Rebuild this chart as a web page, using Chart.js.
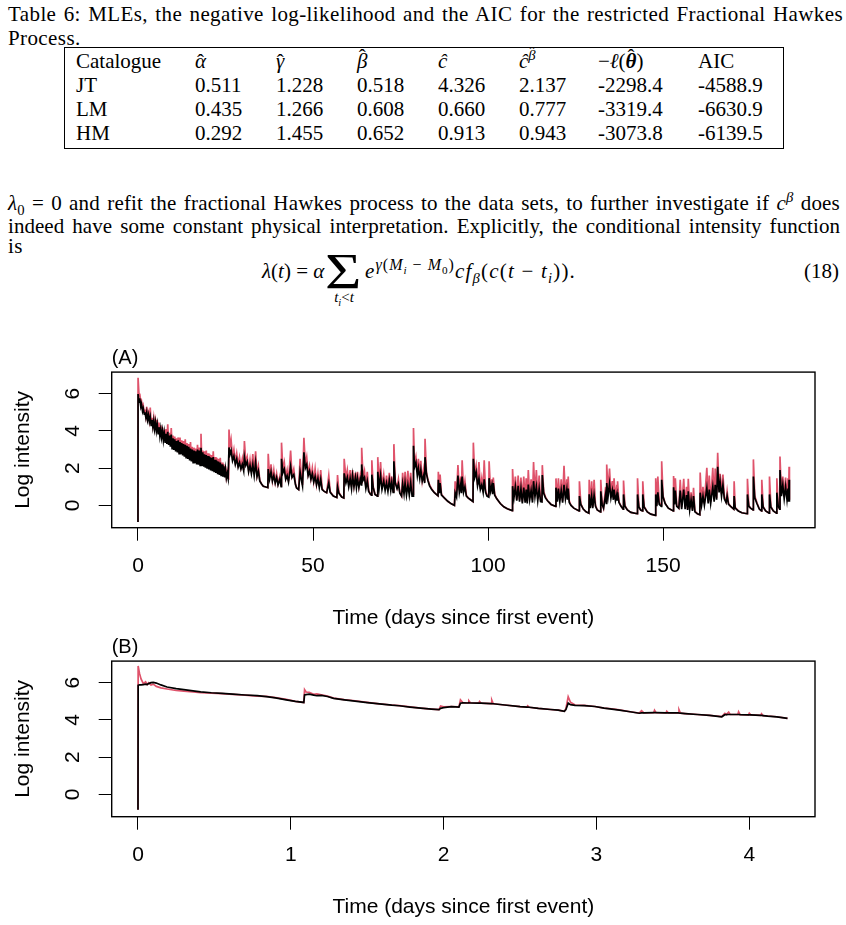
<!DOCTYPE html>
<html lang="en">
<head>
<meta charset="UTF-8">
<title>Fractional Hawkes - log intensity</title>
<script src="https://cdn.jsdelivr.net/npm/chart.js"></script>
<style>
  body {margin:0;width:846px;height:925px;overflow:hidden;background:#fff;color:#000;
        font-family:'Liberation Serif','Times New Roman',serif;position:relative}
  .ln {position:absolute;left:8px;width:834px;font-size:21px;line-height:24px;white-space:nowrap;letter-spacing:0.4px}
  .just {white-space:normal;text-align:justify;text-align-last:justify}
  .cell {position:absolute;font-size:21px;line-height:24px;white-space:nowrap}
  sub,sup {font-size:70%;line-height:0}
  .hat {position:relative;display:inline-block}
  .hat::after {content:"ˆ";position:absolute;left:50%;top:var(--t);transform:translateX(-50%);font-style:normal;font-weight:normal}
  #tab {position:absolute;left:64px;top:47px;width:718px;height:100px;border:1.3px solid #000}
  canvas {position:absolute;left:0}
</style>
</head>
<body>

<div class="ln" style="top:2px;width:835px"><div class="just">Table 6: MLEs, the negative log-likelihood and the AIC for the restricted Fractional Hawkes</div></div>
<div class="ln" style="top:26px">Process.</div>
<div id="tab"></div>
<div id="cells"></div>

<div class="ln" style="top:191px;width:832px;letter-spacing:0.2px"><div class="just"><i>λ</i><sub>0</sub> = 0 and refit the fractional Hawkes process to the data sets, to further investigate if <i>c</i><sup><i>β</i></sup> does</div></div>
<div class="ln" style="top:214px;width:832px;letter-spacing:0.05px"><div class="just">indeed have some constant physical interpretation. Explicitly, the conditional intensity function</div></div>
<div class="ln" style="top:234px">is</div>

<div class="cell" style="left:262px;top:259px"><i>λ</i>(<i>t</i>) = <i>α</i></div>
<div class="cell" style="left:325px;top:243px;font-size:50px;line-height:56px;transform:scaleX(1.25);transform-origin:left">Σ</div>
<div class="cell" style="left:324px;top:288px;width:40px;text-align:center;font-size:15px;line-height:18px"><i>t<sub>i</sub></i>&lt;<i>t</i></div>
<div class="cell" style="left:365px;top:259px;letter-spacing:1.2px"><i>e</i><sup style="font-size:16px;letter-spacing:1px"><i>γ</i>(<i>M<sub>i</sub></i> − <i>M</i><sub>0</sub>)</sup><i>cf</i><sub><i>β</i></sub>(<i>c</i>(<i>t</i> − <i>t<sub>i</sub></i>)).</div>
<div class="cell" style="left:804px;top:259px">(18)</div>

<canvas id="chartA" width="846" height="300" style="top:340px"></canvas>
<canvas id="chartB" width="846" height="300" style="top:629px"></canvas>

<script>
// ---- table 6 ----
const catalogues = ['JT', 'LM', 'HM'];
const alphaHat = [0.511, 0.435, 0.292];
const gammaHat = [1.228, 1.266, 1.455];
const betaHat = [0.518, 0.608, 0.652];
const cHat = [4.326, 0.660, 0.913];
const cBetaHat = [2.137, 0.777, 0.943];
const negLogLik = [-2298.4, -3319.4, -3073.8];
const aic = [-4588.9, -6630.9, -6139.5];

// ---- panel (A): time in days, log intensity ----
const timesA = [
  0, 0.02, 0.3, 0.5, 0.8, 1.0, 1.3, 1.5, 1.8, 2.0,
  2.25, 2.5, 2.75, 3.0, 3.25, 3.5, 3.75, 4.0,
  4.25, 4.5, 4.75, 5.0, 5.25, 5.5, 5.75, 6.0,
  6.25, 6.5, 6.75, 7.0, 7.25, 7.5, 7.75, 8.0,
  8.25, 8.5, 8.75, 9.0, 9.25, 9.5, 9.75, 10.0,
  10.25, 10.5, 10.75, 11.0, 11.25, 11.5, 11.75, 12.0,
  12.25, 12.5, 12.75, 13.0, 13.25, 13.5, 13.75, 14.0,
  14.25, 14.5, 14.75, 15.0, 15.25, 15.5, 15.75, 16.0,
  16.25, 16.5, 16.75, 17.0, 17.25, 17.5, 17.75, 18.0,
  18.25, 18.5, 18.75, 19.0, 19.25, 19.5, 19.75, 20.0,
  20.25, 20.5, 20.75, 21.0, 21.25, 21.5, 21.75, 22.0,
  22.25, 22.5, 22.75, 23.0, 23.25, 23.5, 23.75, 24.0,
  24.25, 24.5, 24.75, 25.0, 25.25, 25.5, 25.75,
  25.9, 26.0, 26.3, 26.6, 27.0, 27.4, 27.8,
  28.2, 28.6, 29.0, 29.4, 29.8, 30.2, 30.4, 30.8, 31.2, 31.6,
  32.0, 32.4, 32.8, 33.2, 33.6, 34.0, 34.4, 34.8, 35.3, 35.8,
  36.3, 37.1, 37.2, 37.6, 38.0, 38.4, 38.8, 39.2, 39.6, 40.0,
  40.5, 40.9, 41.0, 41.4, 41.8, 42.2, 42.6, 43.0, 43.6, 44.0,
  44.5, 45.0, 45.3, 45.9, 46.3, 46.7, 47.0, 47.4, 47.8, 48.2,
  48.6, 49.0, 49.4, 49.8, 50.2, 50.6, 51.0, 51.4, 51.8, 52.2,
  52.6, 53.2, 53.9, 54.5, 54.9, 55.8, 56.8, 57.0, 57.4, 58.2,
  58.8, 58.9, 59.4, 59.8, 60.2, 60.6, 61.0, 61.3, 61.7, 62.1,
  62.4, 62.7, 63.1, 63.5, 63.8, 63.9, 64.3, 64.7, 65.1, 65.5,
  65.9, 66.4, 66.7, 66.8, 67.2, 67.7, 68.4, 68.5, 68.9, 69.3,
  69.7, 70.2, 70.6, 71.0, 71.4, 71.8, 72.2, 72.5, 72.9, 73.1,
  73.5, 74.0, 74.4, 74.8, 75.3, 75.6, 76.0, 76.3, 76.7, 77.1,
  77.5, 77.9, 78.3, 78.6, 78.7, 79.0, 79.4, 79.8, 80.1, 80.5,
  80.8, 81.2, 81.6, 81.9, 82.0, 82.4, 82.8, 83.3, 83.9, 84.6,
  85.3, 85.7, 85.8, 86.1, 86.3, 86.7, 87.5, 88.5, 89.5, 90.4,
  90.6, 91.0, 91.4, 91.8, 92.2, 92.4, 92.6, 93.0, 93.4, 93.8,
  94.3, 95.0, 95.7, 95.8, 96.2, 96.6, 97.0, 97.4, 97.8, 98.2,
  98.6, 98.9, 99.3, 99.7, 100.2, 100.3, 100.7, 101.1, 101.3, 101.5,
  101.9, 102.5, 103.5, 104.5, 105.5, 106.9, 107.0, 107.4, 107.8, 108.2,
  108.6, 109.0, 109.4, 109.8, 110.2, 110.6, 110.9, 111.2, 111.5, 111.9,
  112.3, 112.7, 113.0, 113.4, 113.8, 114.2, 114.6, 115.0, 115.4, 115.5,
  115.9, 116.4, 117.0, 118.0, 119.3, 119.4, 119.8, 120.1, 120.5, 120.9,
  121.3, 121.7, 122.1, 122.5, 122.7, 122.9, 123.2, 123.7, 124.5, 126.0,
  126.1, 126.5, 127.2, 128.0, 128.8, 128.9, 129.2, 129.6, 129.9, 130.3,
  130.7, 131.2, 132.1, 132.2, 132.6, 133.0, 133.6, 133.8, 133.9, 134.3,
  134.7, 135.1, 135.5, 135.8, 136.0, 136.4, 136.8, 136.9, 137.0, 137.4,
  138.0, 138.6, 138.7, 139.1, 139.8, 140.8, 142.6, 142.7, 143.1, 143.6,
  144.1, 144.2, 144.6, 145.5, 146.5, 147.8, 147.9, 148.2, 148.5, 148.9,
  149.5, 149.6, 150.0, 150.6, 151.5, 152.9, 153.0, 153.3, 153.5, 153.9,
  154.5, 154.9, 155.3, 155.9, 156.3, 156.7, 157.0, 157.2, 157.6, 158.0,
  158.4, 158.7, 159.1, 159.8, 160.5, 160.6, 161.0, 161.4, 161.8, 162.5,
  162.9, 163.2, 163.6, 164.2, 164.6, 164.9, 165.3, 165.6, 166.0, 166.3,
  166.7, 167.1, 167.5, 168.0, 168.3, 168.7, 169.3, 170.2, 170.3, 170.6,
  171.5, 172.5, 174.0, 174.1, 174.5, 175.0, 175.7, 175.8, 176.2, 176.8,
  177.5, 178.1, 178.2, 178.6, 179.3, 180.3, 180.4, 180.8, 181.5, 182.4,
  182.5, 182.9, 183.3, 183.4, 183.8, 184.2, 184.6, 185.0, 185.4, 185.7,
  185.85, 186.0, 186.1
];
const redA = [
  -0.89, 6.85, 5.9, 6.0, 5.5, 5.6, 5.2, 5.35, 5.0, 5.15,
  4.8, 5.3, 4.7, 4.95, 4.6, 5.25, 4.4, 4.7,
  4.3, 4.7, 4.2, 4.55, 4.1, 4.6, 3.95, 4.45,
  3.85, 4.3, 3.75, 4.2, 3.6, 4.05, 3.5, 4.1,
  3.4, 4.35, 3.35, 3.9, 3.25, 4.15, 3.15, 3.75,
  3.05, 3.7, 3.0, 3.6, 2.95, 3.65, 2.85, 3.65,
  2.85, 3.5, 2.78, 3.45, 2.7, 3.55, 2.65, 3.35,
  2.6, 3.3, 2.5, 3.4, 2.45, 3.15, 2.4, 3.1,
  2.35, 3.05, 2.3, 3.25, 2.28, 3.1, 2.25, 3.85,
  2.2, 2.95, 2.15, 2.9, 2.1, 2.95, 2.05, 2.8,
  2.0, 2.75, 1.95, 2.7, 1.92, 2.9, 1.85, 2.6,
  1.82, 2.55, 1.75, 2.5, 1.7, 2.55, 1.65, 2.3,
  1.6, 2.2, 1.56, 2.1, 1.52, 1.8, 1.47,
  1.45, 4.07, 3.1, 3.5, 2.6, 3.0, 2.35,
  2.8, 2.2, 2.6, 2.05, 2.5, 1.9, 3.46, 2.3, 2.6, 1.9,
  2.45, 1.8, 2.75, 1.7, 2.9, 1.65, 2.1, 1.35, 1.15, 1.03,
  1.0, 0.95, 2.77, 1.5, 2.2, 1.35, 1.9, 1.25, 1.7, 1.15,
  1.55, 1.05, 3.37, 1.9, 2.3, 1.5, 1.9, 1.3, 2.95, 1.6,
  1.95, 1.15, 0.94, 0.85, 2.5, 1.5, 1.1, 3.63, 2.2, 2.6,
  1.7, 2.1, 1.45, 2.0, 1.3, 1.95, 1.15, 1.7, 1.0, 1.9,
  0.9, 0.75, 0.68, 1.6, 0.75, 0.5, 0.42, 1.63, 0.7, 0.45,
  0.4, 2.5, 1.45, 1.9, 1.2, 1.9, 1.0, 1.9, 1.1, 1.75,
  1.05, 1.8, 1.05, 1.6, 1.2, 3.1, 1.5, 1.85, 1.0, 1.8,
  0.8, 0.6, 0.55, 2.42, 1.0, 0.6, 0.5, 2.59, 1.0, 2.33,
  0.95, 1.65, 0.85, 1.6, 0.85, 1.75, 0.9, 1.55, 0.75, 3.29,
  1.3, 0.95, 1.4, 0.7, 0.5, 1.75, 0.75, 1.8, 0.8, 1.85,
  0.85, 1.75, 0.75, 0.6, 4.16, 2.2, 2.6, 1.8, 2.5, 1.6,
  2.4, 1.35, 1.9, 1.25, 3.58, 1.8, 1.4, 1.1, 0.9, 0.7,
  0.58, 0.52, 1.81, 0.7, 1.65, 0.6, 0.4, 0.22, 0.08, 0.0,
  1.29, 0.55, 2.16, 0.8, 1.55, 0.75, 2.42, 0.8, 1.3, 0.55,
  0.4, 0.3, 0.2, 3.37, 1.6, 2.1, 1.1, 2.33, 0.9, 1.45,
  0.75, 2.42, 0.8, 0.55, 0.5, 2.37, 0.85, 1.4, 0.7, 1.5,
  0.6, 0.35, 0.1, -0.08, -0.18, -0.28, 1.95, 0.5, 1.55, 0.3,
  1.6, 0.3, 1.5, 0.2, 1.55, 0.25, 1.45, 0.2, 1.9, 0.4,
  1.4, 0.3, 2.33, 0.6, 1.9, 0.35, 1.6, 0.3, 0.25, 2.16,
  0.75, 0.45, 0.25, 0.05, -0.05, 1.45, 0.3, 1.46, 0.3, 1.4,
  0.25, 2.12, 0.5, 1.4, 0.4, 1.55, 0.25, 0.0, -0.15, -0.3,
  1.29, 0.1, -0.2, -0.35, -0.42, 1.37, -0.1, 1.29, -0.1, 1.37,
  0.0, -0.25, -0.35, 1.37, 0.1, -0.15, 1.0, 0.2, 2.19, 0.7,
  1.98, 0.6, 1.3, 0.4, 1.46, 0.35, 1.1, 0.4, 1.29, 0.2,
  -0.05, -0.2, 1.33, 0.0, -0.25, -0.38, -0.45, 1.46, -0.05, -0.25,
  -0.3, 1.29, -0.05, -0.35, -0.47, -0.54, 1.46, 0.0, 1.55, 0.15,
  0.0, 2.37, 0.5, 0.1, -0.15, -0.3, 1.58, 0.1, 1.46, 0.0,
  -0.15, 1.37, -0.1, 1.43, -0.1, 1.0, -0.2, 1.43, -0.15, 0.7,
  -0.25, 0.94, -0.3, -0.45, -0.5, 1.77, 0.1, 1.0, 0.1, 2.02,
  0.2, 1.6, 0.2, 2.02, 0.3, 1.98, 0.4, 2.82, 0.8, 1.7,
  0.6, 1.65, 0.45, 0.2, 0.75, 0.1, -0.05, -0.2, 1.29, -0.1,
  -0.3, -0.4, -0.45, 1.43, 0.0, -0.15, -0.25, 2.47, 0.5, 0.15,
  -0.2, -0.3, 1.37, -0.05, -0.3, -0.42, 1.55, -0.05, -0.3, -0.42,
  1.46, 0.0, -0.2, 2.63, 0.6, 1.55, 0.45, 1.5, 0.35, 1.45,
  0.3, 2.07, 0.3
];
const blackA = [
  -0.89, 5.98, 5.55, 5.75, 5.3, 5.45, 5.05, 5.2, 4.9, 5.0,
  4.72, 5.0, 4.6, 4.85, 4.5, 4.75, 4.3, 4.6,
  4.2, 4.55, 4.1, 4.45, 4.0, 4.35, 3.85, 4.2,
  3.72, 4.1, 3.65, 4.0, 3.5, 3.9, 3.4, 3.85,
  3.3, 3.95, 3.25, 3.75, 3.15, 3.8, 3.05, 3.6,
  2.98, 3.55, 2.9, 3.45, 2.85, 3.5, 2.78, 3.4,
  2.75, 3.35, 2.68, 3.3, 2.62, 3.25, 2.56, 3.2,
  2.5, 3.15, 2.42, 3.05, 2.36, 3.0, 2.3, 2.95,
  2.26, 2.9, 2.2, 3.0, 2.18, 2.95, 2.15, 3.1,
  2.12, 2.85, 2.08, 2.75, 2.02, 2.7, 1.97, 2.65,
  1.93, 2.6, 1.88, 2.55, 1.84, 2.6, 1.78, 2.45,
  1.74, 2.4, 1.68, 2.35, 1.63, 2.3, 1.57, 2.2,
  1.54, 2.1, 1.5, 1.95, 1.47, 1.7, 1.45,
  1.45, 3.11, 2.75, 2.95, 2.4, 2.65, 2.2,
  2.5, 2.05, 2.3, 1.95, 2.2, 1.85, 2.6, 2.15, 2.35, 1.8,
  2.15, 1.7, 2.2, 1.6, 2.3, 1.55, 1.85, 1.3, 1.15, 1.03,
  1.0, 0.95, 1.95, 1.4, 1.8, 1.3, 1.6, 1.2, 1.5, 1.1,
  1.4, 1.0, 2.5, 1.75, 1.95, 1.4, 1.6, 1.25, 2.1, 1.5,
  1.65, 1.1, 0.94, 0.85, 1.8, 1.35, 1.05, 2.85, 2.0, 2.2,
  1.6, 1.85, 1.4, 1.7, 1.25, 1.55, 1.1, 1.45, 0.95, 1.4,
  0.85, 0.75, 0.68, 1.2, 0.7, 0.5, 0.42, 1.0, 0.65, 0.45,
  0.4, 1.72, 1.2, 1.5, 1.0, 1.45, 0.9, 1.6, 1.0, 1.5,
  0.95, 1.45, 0.95, 1.4, 1.1, 2.2, 1.35, 1.5, 0.9, 1.3,
  0.75, 0.6, 0.55, 1.65, 0.95, 0.58, 0.5, 1.8, 0.95, 1.6,
  0.85, 1.3, 0.8, 1.2, 0.75, 1.35, 0.8, 1.25, 0.7, 2.37,
  1.2, 0.9, 1.15, 0.65, 0.5, 1.15, 0.6, 1.2, 0.55, 1.1,
  0.55, 1.2, 0.5, 0.5, 3.2, 2.05, 2.3, 1.6, 2.0, 1.45,
  1.9, 1.3, 1.6, 1.2, 2.59, 1.7, 1.35, 1.05, 0.85, 0.7,
  0.58, 0.52, 1.37, 0.65, 1.2, 0.55, 0.4, 0.22, 0.08, 0.0,
  0.68, 0.45, 1.6, 0.7, 1.15, 0.65, 1.55, 0.7, 1.0, 0.5,
  0.4, 0.3, 0.2, 2.5, 1.5, 1.8, 1.05, 1.45, 0.85, 1.1,
  0.7, 1.4, 0.7, 0.5, 0.45, 1.46, 0.75, 1.1, 0.6, 1.2,
  0.55, 0.35, 0.1, -0.08, -0.18, -0.28, 1.03, 0.4, 1.0, 0.25,
  1.05, 0.2, 0.9, 0.1, 0.95, 0.15, 0.85, 0.1, 1.12, 0.3,
  0.8, 0.15, 1.3, 0.45, 1.0, 0.25, 0.9, 0.2, 0.18, 1.63,
  0.65, 0.4, 0.25, 0.05, -0.05, 0.95, 0.2, 0.9, 0.2, 0.8,
  0.15, 1.1, 0.35, 0.85, 0.3, 0.9, 0.15, 0.0, -0.15, -0.3,
  0.5, 0.05, -0.2, -0.35, -0.42, 0.59, -0.15, 0.5, -0.15, 0.55,
  -0.05, -0.25, -0.35, 0.76, 0.05, -0.15, 0.6, 0.1, 1.2, 0.5,
  1.15, 0.4, 0.8, 0.3, 0.85, 0.25, 0.6, 0.3, 0.7, 0.15,
  -0.05, -0.2, 0.59, -0.05, -0.25, -0.38, -0.45, 0.59, -0.1, -0.25,
  -0.3, 0.59, -0.1, -0.35, -0.47, -0.54, 0.59, -0.05, 0.7, 0.05,
  -0.05, 1.37, 0.45, 0.1, -0.15, -0.3, 0.97, 0.05, 0.8, -0.05,
  -0.15, 0.8, -0.2, 0.85, -0.2, 0.55, -0.25, 0.75, -0.25, 0.3,
  -0.3, 0.5, -0.35, -0.45, -0.5, 0.68, 0.0, 0.5, 0.0, 0.94,
  0.1, 0.85, 0.1, 1.0, 0.2, 1.1, 0.3, 2.07, 0.7, 1.25,
  0.5, 1.1, 0.35, 0.15, 0.5, 0.05, -0.05, -0.2, 0.5, -0.15,
  -0.3, -0.4, -0.45, 0.59, -0.05, -0.15, -0.25, 1.55, 0.4, 0.1,
  -0.2, -0.3, 0.59, -0.1, -0.3, -0.42, 0.59, -0.1, -0.3, -0.42,
  0.68, -0.05, -0.2, 1.9, 0.5, 1.1, 0.35, 1.0, 0.3, 0.9,
  0.2, 1.37, 0.2
];

// ---- panel (B) ----
const timesB = [
  0, 0.001, 0.01, 0.02, 0.035, 0.05, 0.06, 0.07, 0.085, 0.10,
  0.12, 0.15, 0.19, 0.25, 0.30, 0.36, 0.41, 0.48, 0.55, 0.62,
  0.70, 0.78, 0.84, 0.90, 0.97, 1.03, 1.085, 1.09, 1.10, 1.12,
  1.15, 1.17, 1.20, 1.24, 1.28, 1.35, 1.42, 1.50, 1.58, 1.66,
  1.71, 1.78, 1.85, 1.92, 1.97, 1.98, 2.00, 2.05, 2.10, 2.11,
  2.125, 2.16, 2.165, 2.175, 2.23, 2.235, 2.245, 2.31, 2.315, 2.325,
  2.40, 2.50, 2.545, 2.55, 2.56, 2.62, 2.70, 2.75, 2.79, 2.80,
  2.815, 2.83, 2.86, 2.92, 2.99, 3.05, 3.10, 3.15, 3.22, 3.28,
  3.295, 3.31, 3.375, 3.38, 3.39, 3.455, 3.46, 3.47, 3.535, 3.54,
  3.55, 3.58, 3.66, 3.74, 3.82, 3.84, 3.85, 3.865, 3.875, 3.925,
  3.93, 3.94, 3.995, 4.0, 4.01, 4.075, 4.08, 4.09, 4.12, 4.18,
  4.25
];
const redB = [
  -0.82, 6.9, 6.5, 6.2, 5.95, 6.05, 5.9, 6.0, 5.88, 5.92,
  5.8, 5.72, 5.66, 5.58, 5.55, 5.5, 5.46, 5.44, 5.41, 5.37,
  5.33, 5.28, 5.27, 5.2, 5.1, 5.0, 4.94, 5.63, 5.5, 5.48,
  5.38, 5.4, 5.35, 5.28, 5.17, 5.09, 5.03, 4.94, 4.86, 4.80,
  4.77, 4.70, 4.63, 4.58, 4.55, 4.75, 4.7, 4.72, 4.7, 5.08,
  4.93, 4.92, 5.03, 4.92, 4.9, 4.99, 4.9, 4.88, 5.07, 4.87,
  4.80, 4.71, 4.69, 4.76, 4.68, 4.62, 4.56, 4.53, 4.46, 4.6,
  5.25, 4.95, 4.8, 4.78, 4.72, 4.63, 4.6, 4.54, 4.44, 4.37,
  4.5, 4.38, 4.39, 4.52, 4.39, 4.38, 4.47, 4.38, 4.38, 4.55,
  4.36, 4.34, 4.29, 4.24, 4.18, 4.35, 4.29, 4.42, 4.29, 4.29,
  4.44, 4.28, 4.27, 4.36, 4.27, 4.24, 4.33, 4.23, 4.21, 4.17,
  4.08
];
const blackB = [
  -0.82, 5.86, 5.88, 5.88, 5.9, 5.92, 5.9, 5.95, 6.0, 6.02,
  5.98, 5.88, 5.77, 5.68, 5.63, 5.56, 5.51, 5.46, 5.43, 5.39,
  5.34, 5.30, 5.25, 5.18, 5.08, 5.0, 4.94, 5.34, 5.36, 5.38,
  5.33, 5.30, 5.32, 5.26, 5.16, 5.08, 5.01, 4.93, 4.86, 4.79,
  4.76, 4.69, 4.63, 4.58, 4.55, 4.62, 4.66, 4.71, 4.69, 4.9,
  4.92, 4.91, 4.92, 4.91, 4.9, 4.9, 4.9, 4.88, 4.88, 4.87,
  4.80, 4.71, 4.69, 4.69, 4.68, 4.62, 4.56, 4.53, 4.46, 4.55,
  4.9, 4.82, 4.78, 4.77, 4.72, 4.63, 4.58, 4.53, 4.44, 4.36,
  4.38, 4.38, 4.39, 4.39, 4.39, 4.38, 4.38, 4.38, 4.38, 4.38,
  4.36, 4.34, 4.29, 4.24, 4.17, 4.28, 4.28, 4.29, 4.29, 4.29,
  4.29, 4.28, 4.27, 4.27, 4.27, 4.24, 4.24, 4.23, 4.2, 4.16,
  4.08
];

const xTicksA = [0, 50, 100, 150];
const xTicksB = [0, 1, 2, 3, 4];
const yTicks = [0, 2, 4, 6];

if (redA.length !== timesA.length || blackA.length !== timesA.length) throw new Error('panel A lengths ' + timesA.length + ' ' + redA.length + ' ' + blackA.length);
if (redB.length !== timesB.length || blackB.length !== timesB.length) throw new Error('panel B lengths ' + timesB.length + ' ' + redB.length + ' ' + blackB.length);

// table cells
function hat(html, top) { return `<span class="hat" style="--t:${top}px">${html}</span>`; }
const headers = ['Catalogue', hat('<i>α</i>', 1), hat('<i>γ</i>', 1), hat('<i>β</i>', -4), '<i>ĉ</i>',
  '<i>ĉ</i><sup>' + hat('<i>β</i>', -3) + '</sup>', '−<i>ℓ</i>(' + hat('<b><i>θ</i></b>', -4) + ')', 'AIC'];
const colLeft = [76, 195, 276, 357, 438, 519, 598, 698];
const rowTop = [49, 73, 97, 121];
let html = '';
headers.forEach((h, j) => { html += `<div class="cell" style="left:${colLeft[j]}px;top:${rowTop[0]}px">${h}</div>`; });
catalogues.forEach((c, i) => {
  const vals = [c, alphaHat[i].toFixed(3), gammaHat[i].toFixed(3), betaHat[i].toFixed(3), cHat[i].toFixed(3),
    cBetaHat[i].toFixed(3), negLogLik[i].toFixed(1), aic[i].toFixed(1)];
  vals.forEach((v, j) => { html += `<div class="cell" style="left:${colLeft[j]}px;top:${rowTop[i + 1]}px">${v}</div>`; });
});
document.getElementById('cells').innerHTML = html;

// ---- charts ----
Chart.defaults.font.family = "'Liberation Sans', Arial, sans-serif";
Chart.defaults.color = '#000';

const boxPlugin = {
  id: 'box',
  afterDraw(chart) {
    const {ctx, chartArea: a} = chart;
    ctx.save();
    ctx.strokeStyle = '#000';
    ctx.lineWidth = 1.4;
    ctx.strokeRect(a.left, a.top, a.right - a.left, a.bottom - a.top);
    ctx.restore();
  }
};

function panel(id, label, times, red, black, xMin, xMax, xTicks) {
  return new Chart(document.getElementById(id), {
    type: 'line',
    data: {
      datasets: [
        {data: times.map((x, i) => ({x, y: black[i]})), borderColor: '#000', borderWidth: 1.7},
        {data: times.map((x, i) => ({x, y: red[i]})), borderColor: '#DF536B', borderWidth: 1.7}
      ]
    },
    options: {
      responsive: false,
      animation: false,
      devicePixelRatio: 1,
      layout: {padding: {left: 0, right: 31, top: 0, bottom: 0}},
      elements: {point: {radius: 0}, line: {tension: 0}},
      plugins: {
        legend: {display: false},
        tooltip: {enabled: false},
        title: {display: true, text: label, align: 'start', fullSize: false, color: '#000',
                font: {size: 20, weight: 'normal'}, padding: {top: 1.9, bottom: 1.6}}
      },
      scales: {
        x: {
          type: 'linear', min: xMin, max: xMax,
          afterBuildTicks: s => { s.ticks = xTicks.map(v => ({value: v})); },
          afterFit: s => { s.height = 112.3; },
          ticks: {font: {size: 21}, color: '#000', padding: 13, minRotation: 0, maxRotation: 0, autoSkip: false},
          grid: {drawOnChartArea: false, tickLength: 13, color: '#000', lineWidth: 1},
          border: {display: false},
          title: {display: true, text: 'Time (days since first event)', font: {size: 21}, color: '#000',
                  padding: {top: 0, bottom: 8.7}}
        },
        y: {
          min: -1.2, max: 7.16,
          afterBuildTicks: s => { s.ticks = yTicks.map(v => ({value: v})); },
          afterFit: s => { s.width = 111.7; },
          ticks: {font: {size: 21}, color: '#000', padding: 19.5, minRotation: 90, maxRotation: 90,
                  crossAlign: 'center', autoSkip: false},
          grid: {drawOnChartArea: false, tickLength: 13, color: '#000', lineWidth: 1},
          border: {display: false},
          title: {display: true, text: 'Log intensity', font: {size: 21}, color: '#000',
                  padding: {top: 11.1, bottom: 0}}
        }
      }
    },
    plugins: [boxPlugin]
  });
}

panel('chartA', '(A)', timesA, redA, blackA, -7.51, 193.4, xTicksA);
panel('chartB', '(B)', timesB, redB, blackB, -0.172, 4.43, xTicksB);
</script>
</body>
</html>
